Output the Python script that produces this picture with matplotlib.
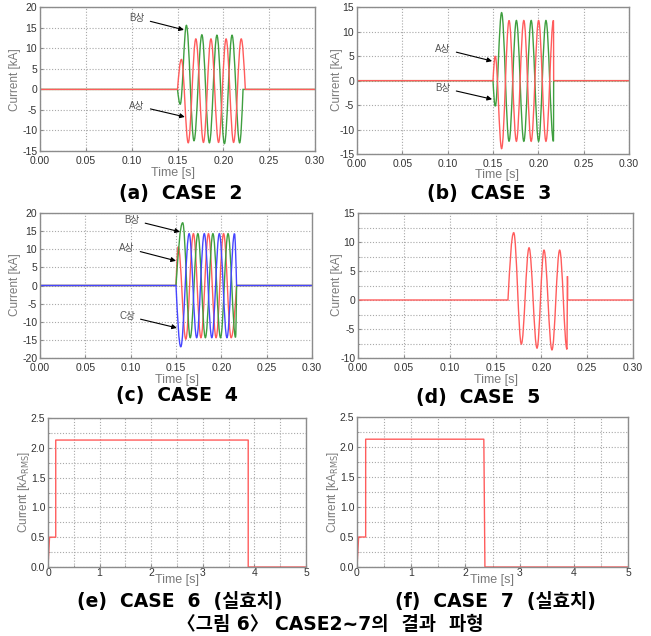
import matplotlib
matplotlib.use("Agg")
import matplotlib.pyplot as plt
from matplotlib.path import Path
from matplotlib.patches import PathPatch
from matplotlib.ticker import MultipleLocator, FormatStrFormatter

plt.rcParams['font.family'] = ['Liberation Sans', 'Noto Sans CJK KR', 'DejaVu Sans']

# ---- data (extrema of each waveform) ----
# (a) CASE 2
t_a_A = [0.000, 0.150, 0.1543, 0.1617, 0.1700, 0.1783, 0.1865, 0.1948, 0.2030, 0.2112, 0.2195, 0.2240, 0.300]
i_a_A = [0.0, 0.0, 7.3, -13.0, 12.3, -12.9, 12.3, -12.9, 12.3, -12.9, 12.3, 0.0, 0.0]
t_a_B = [0.000, 0.150, 0.1530, 0.1597, 0.1680, 0.1766, 0.1848, 0.1930, 0.2012, 0.2095, 0.2178, 0.2215, 0.300]
i_a_B = [0.0, 0.0, -3.6, 15.6, -12.5, 13.3, -13.0, 13.2, -13.2, 13.2, -13.0, 0.0, 0.0]

# (b) CASE 3
t_b_A = [0.000, 0.0003, 0.150, 0.1525, 0.1595, 0.1677, 0.1758, 0.1840, 0.1921, 0.2003, 0.2084, 0.2167, 0.2169, 0.300]
i_b_A = [3.3, 0.0, 0.0, 5.0, -13.9, 12.3, -12.4, 12.3, -12.4, 12.3, -12.4, 12.3, 0.0, 0.0]
t_b_B = [0.000, 0.150, 0.1525, 0.1595, 0.1677, 0.1758, 0.1840, 0.1921, 0.2003, 0.2084, 0.2167, 0.2169, 0.300]
i_b_B = [0.0, 0.0, -5.2, 13.9, -12.4, 12.3, -12.4, 12.3, -12.4, 12.3, -12.4, 0.0, 0.0]

# (c) CASE 4
t_c_A = [0.000, 0.150, 0.1525, 0.1608, 0.1692, 0.1775, 0.1858, 0.1942, 0.2025, 0.2108, 0.2168, 0.300]
i_c_A = [0.0, 0.0, 10.7, -14.8, 14.3, -14.4, 14.3, -14.4, 14.3, -14.4, 0.0, 0.0]
t_c_B = [0.000, 0.150, 0.1574, 0.1657, 0.1741, 0.1824, 0.1907, 0.1991, 0.2074, 0.2157, 0.2168, 0.300]
i_c_B = [0.0, 0.0, 17.3, -14.4, 14.3, -14.4, 14.3, -14.4, 14.3, -14.3, 0.0, 0.0]
t_c_C = [0.000, 0.150, 0.1553, 0.1645, 0.1728, 0.1812, 0.1895, 0.1978, 0.2062, 0.2145, 0.2168, 0.300]
i_c_C = [0.0, 0.0, -16.9, 14.3, -14.4, 14.3, -14.4, 14.3, -14.4, 14.3, 0.0, 0.0]

# (d) CASE 5
t_d = [0.000, 0.1636, 0.1699, 0.1782, 0.1866, 0.1953, 0.2029, 0.2116, 0.2200, 0.2280, 0.2285, 0.2287, 0.300]
i_d = [0.0, 0.0, 11.6, -7.6, 9.0, -8.3, 8.6, -8.6, 8.6, -8.5, 4.1, 0.0, 0.0]

# (e) CASE 6, (f) CASE 7 (RMS)
t_e = [0.0, 0.03, 0.15, 0.15, 3.88, 3.88, 5.0]
i_e = [0.0, 0.5, 0.5, 2.13, 2.13, 0.0, 0.0]
t_f = [0.0, 0.03, 0.16, 0.16, 2.34, 2.36, 5.0]
i_f = [0.0, 0.5, 0.5, 2.13, 2.13, 0.0, 0.0]

captions = ['(a)  CASE  2', '(b)  CASE  3', '(c)  CASE  4', '(d)  CASE  5',
            '(e)  CASE  6  (실효치)', '(f)  CASE  7  (실효치)']
title = '〈그림 6〉 CASE2~7의  결과  파형'

RED = '#ff5c5c'
GREEN = '#3f9f3f'
BLUE = '#4646ff'
W, H = 651, 636


def wave(ax, ts, vs, color):
    # smooth curve through the read extrema (horizontal tangent at peaks)
    n = len(ts)
    K = 0.3634

    def ext(i):
        if i == 0 or i == n - 1:
            return False
        return (vs[i] > vs[i-1] and vs[i] > vs[i+1]) or (vs[i] < vs[i-1] and vs[i] < vs[i+1])

    verts = [(ts[0], vs[0])]
    codes = [Path.MOVETO]
    for i in range(n - 1):
        t0, v0, t1, v1 = ts[i], vs[i], ts[i+1], vs[i+1]
        dt, dv = t1 - t0, v1 - v0
        e0, e1 = ext(i), ext(i + 1)
        if e0:
            c1 = (t0 + K * dt, v0)
        elif e1:
            c1 = (t0 + dt / 3, v0 + dv * 0.52)
        else:
            c1 = (t0 + dt / 3, v0 + dv / 3)
        if e1:
            c2 = (t1 - (K if e0 else 0.4) * dt, v1)
        elif e0:
            c2 = (t1 - dt / 3, v1 - dv * 0.52)
        else:
            c2 = (t1 - dt / 3, v1 - dv / 3)
        verts += [c1, c2, (t1, v1)]
        codes += [Path.CURVE4] * 3
    ax.add_patch(PathPatch(Path(verts, codes), fill=False, ec=color, lw=1.0))


def px_axes(l, t, r, b):
    return fig.add_axes([l / W, 1 - b / H, (r - l) / W, (b - t) / H])


def style(ax, xlim, ylim, xmaj, ymaj, xfmt, yfmt, xmin=None, ymin=None):
    ax.set_xlim(*xlim)
    ax.set_ylim(*ylim)
    ax.xaxis.set_major_locator(MultipleLocator(xmaj))
    ax.yaxis.set_major_locator(MultipleLocator(ymaj))
    ax.xaxis.set_major_formatter(FormatStrFormatter(xfmt))
    ax.yaxis.set_major_formatter(FormatStrFormatter(yfmt))
    if xmin:
        ax.xaxis.set_minor_locator(MultipleLocator(xmin))
    if ymin:
        ax.yaxis.set_minor_locator(MultipleLocator(ymin))
    which = 'both' if (xmin or ymin) else 'major'
    ax.grid(True, which=which, color='#a8a8a8', lw=0.8, ls=(0, (1, 1.6)))
    ax.set_axisbelow(True)
    for s in ax.spines.values():
        s.set_color('#8c8c8c')
        s.set_linewidth(1.0)
    ax.tick_params(which='both', direction='in', color='#8c8c8c', labelsize=7.5,
                   labelcolor='#333333', length=2.5, pad=2)
    ax.tick_params(axis='x', pad=3.5)
    ax.tick_params(which='minor', length=1.5)


def labels(xl_x, xl_y, yl_x, yl_y, ytext):
    fig.text(xl_x / W, 1 - xl_y / H, 'Time [s]', ha='center', va='center',
             fontsize=9, color='#7a7a7a')
    fig.text(yl_x / W, 1 - yl_y / H, ytext, ha='center', va='center',
             rotation=90, fontsize=8.5, color='#7a7a7a')


def arrow(ax, txt, xy, xytext):
    ax.annotate(txt, xy=xy, xytext=xytext, ha='center', va='center',
                fontsize=7, color='#555555',
                arrowprops=dict(arrowstyle='-|>', color='black', lw=0.8,
                                mutation_scale=7, shrinkB=0))


fig = plt.figure(figsize=(W / 100, H / 100), dpi=100)

# (a)
ax = px_axes(40, 7.3, 315, 151)
style(ax, (0, 0.30), (-15, 20), 0.05, 5, '%.2f', '%d')
wave(ax, t_a_B, i_a_B, GREEN)
wave(ax, t_a_A, i_a_A, RED)
arrow(ax, 'B상', (0.157, 14.5), (0.106, 17.4))
arrow(ax, 'A상', (0.158, -6.7), (0.106, -4.0))
labels(173, 173, 15, 80, 'Current [kA]')

# (b)
ax = px_axes(357, 7.3, 629, 154)
style(ax, (0, 0.30), (-15, 15), 0.05, 5, '%.2f', '%d')
wave(ax, t_b_B, i_b_B, GREEN)
wave(ax, t_b_A, i_b_A, RED)
arrow(ax, 'A상', (0.149, 4.0), (0.095, 6.5))
arrow(ax, 'B상', (0.149, -3.8), (0.095, -1.5))
labels(497, 175, 337, 80, 'Current [kA]')

# (c)
ax = px_axes(40, 213, 312, 358)
style(ax, (0, 0.30), (-20, 20), 0.05, 5, '%.2f', '%d')
wave(ax, t_c_A, i_c_A, RED)
wave(ax, t_c_B, i_c_B, GREEN)
wave(ax, t_c_C, i_c_C, BLUE)
arrow(ax, 'B상', (0.1544, 14.8), (0.1015, 18.1))
arrow(ax, 'A상', (0.150, 6.8), (0.096, 10.3))
arrow(ax, 'C상', (0.151, -11.7), (0.096, -8.4))
labels(177, 380, 15, 285, 'Current [kA]')

# (d)
ax = px_axes(358, 213, 633, 358)
style(ax, (0, 0.30), (-10, 15), 0.05, 5, '%.2f', '%d', ymin=2.5)
wave(ax, t_d, i_d, RED)
labels(496, 380, 337, 285, 'Current [kA]')

# (e)
ax = px_axes(48, 418, 306, 567)
style(ax, (0, 5), (0, 2.5), 1, 0.5, '%d', '%.1f', xmin=0.5, ymin=0.25)
ax.plot(t_e, i_e, color=RED, lw=1.0)
ax.tick_params(axis='x', pad=0.5)
labels(177, 580, 24, 492, 'Current [kA$_{\\mathrm{RMS}}$]')

# (f)
ax = px_axes(357, 417, 628, 567)
style(ax, (0, 5), (0, 2.5), 1, 0.5, '%d', '%.1f', xmin=0.5, ymin=0.25)
ax.plot(t_f, i_f, color=RED, lw=1.0)
ax.tick_params(axis='x', pad=0.5)
labels(492, 580, 333, 492, 'Current [kA$_{\\mathrm{RMS}}$]')

# captions
cap_font = ['DejaVu Sans', 'Noto Sans CJK KR']
cap_pos = [(181, 193), (489, 193), (177, 396), (478, 398), (180, 602), (495, 602)]
for (cx, cy), c in zip(cap_pos, captions):
    fig.text(cx / W, 1 - cy / H, c, ha='center', va='center', fontsize=13.5,
             fontweight='bold', family=cap_font)
fig.text(330 / W, 1 - 625 / H, title, ha='center', va='center', fontsize=13.5,
         fontweight='bold', family=cap_font)

fig.savefig('out.png', dpi=100)
